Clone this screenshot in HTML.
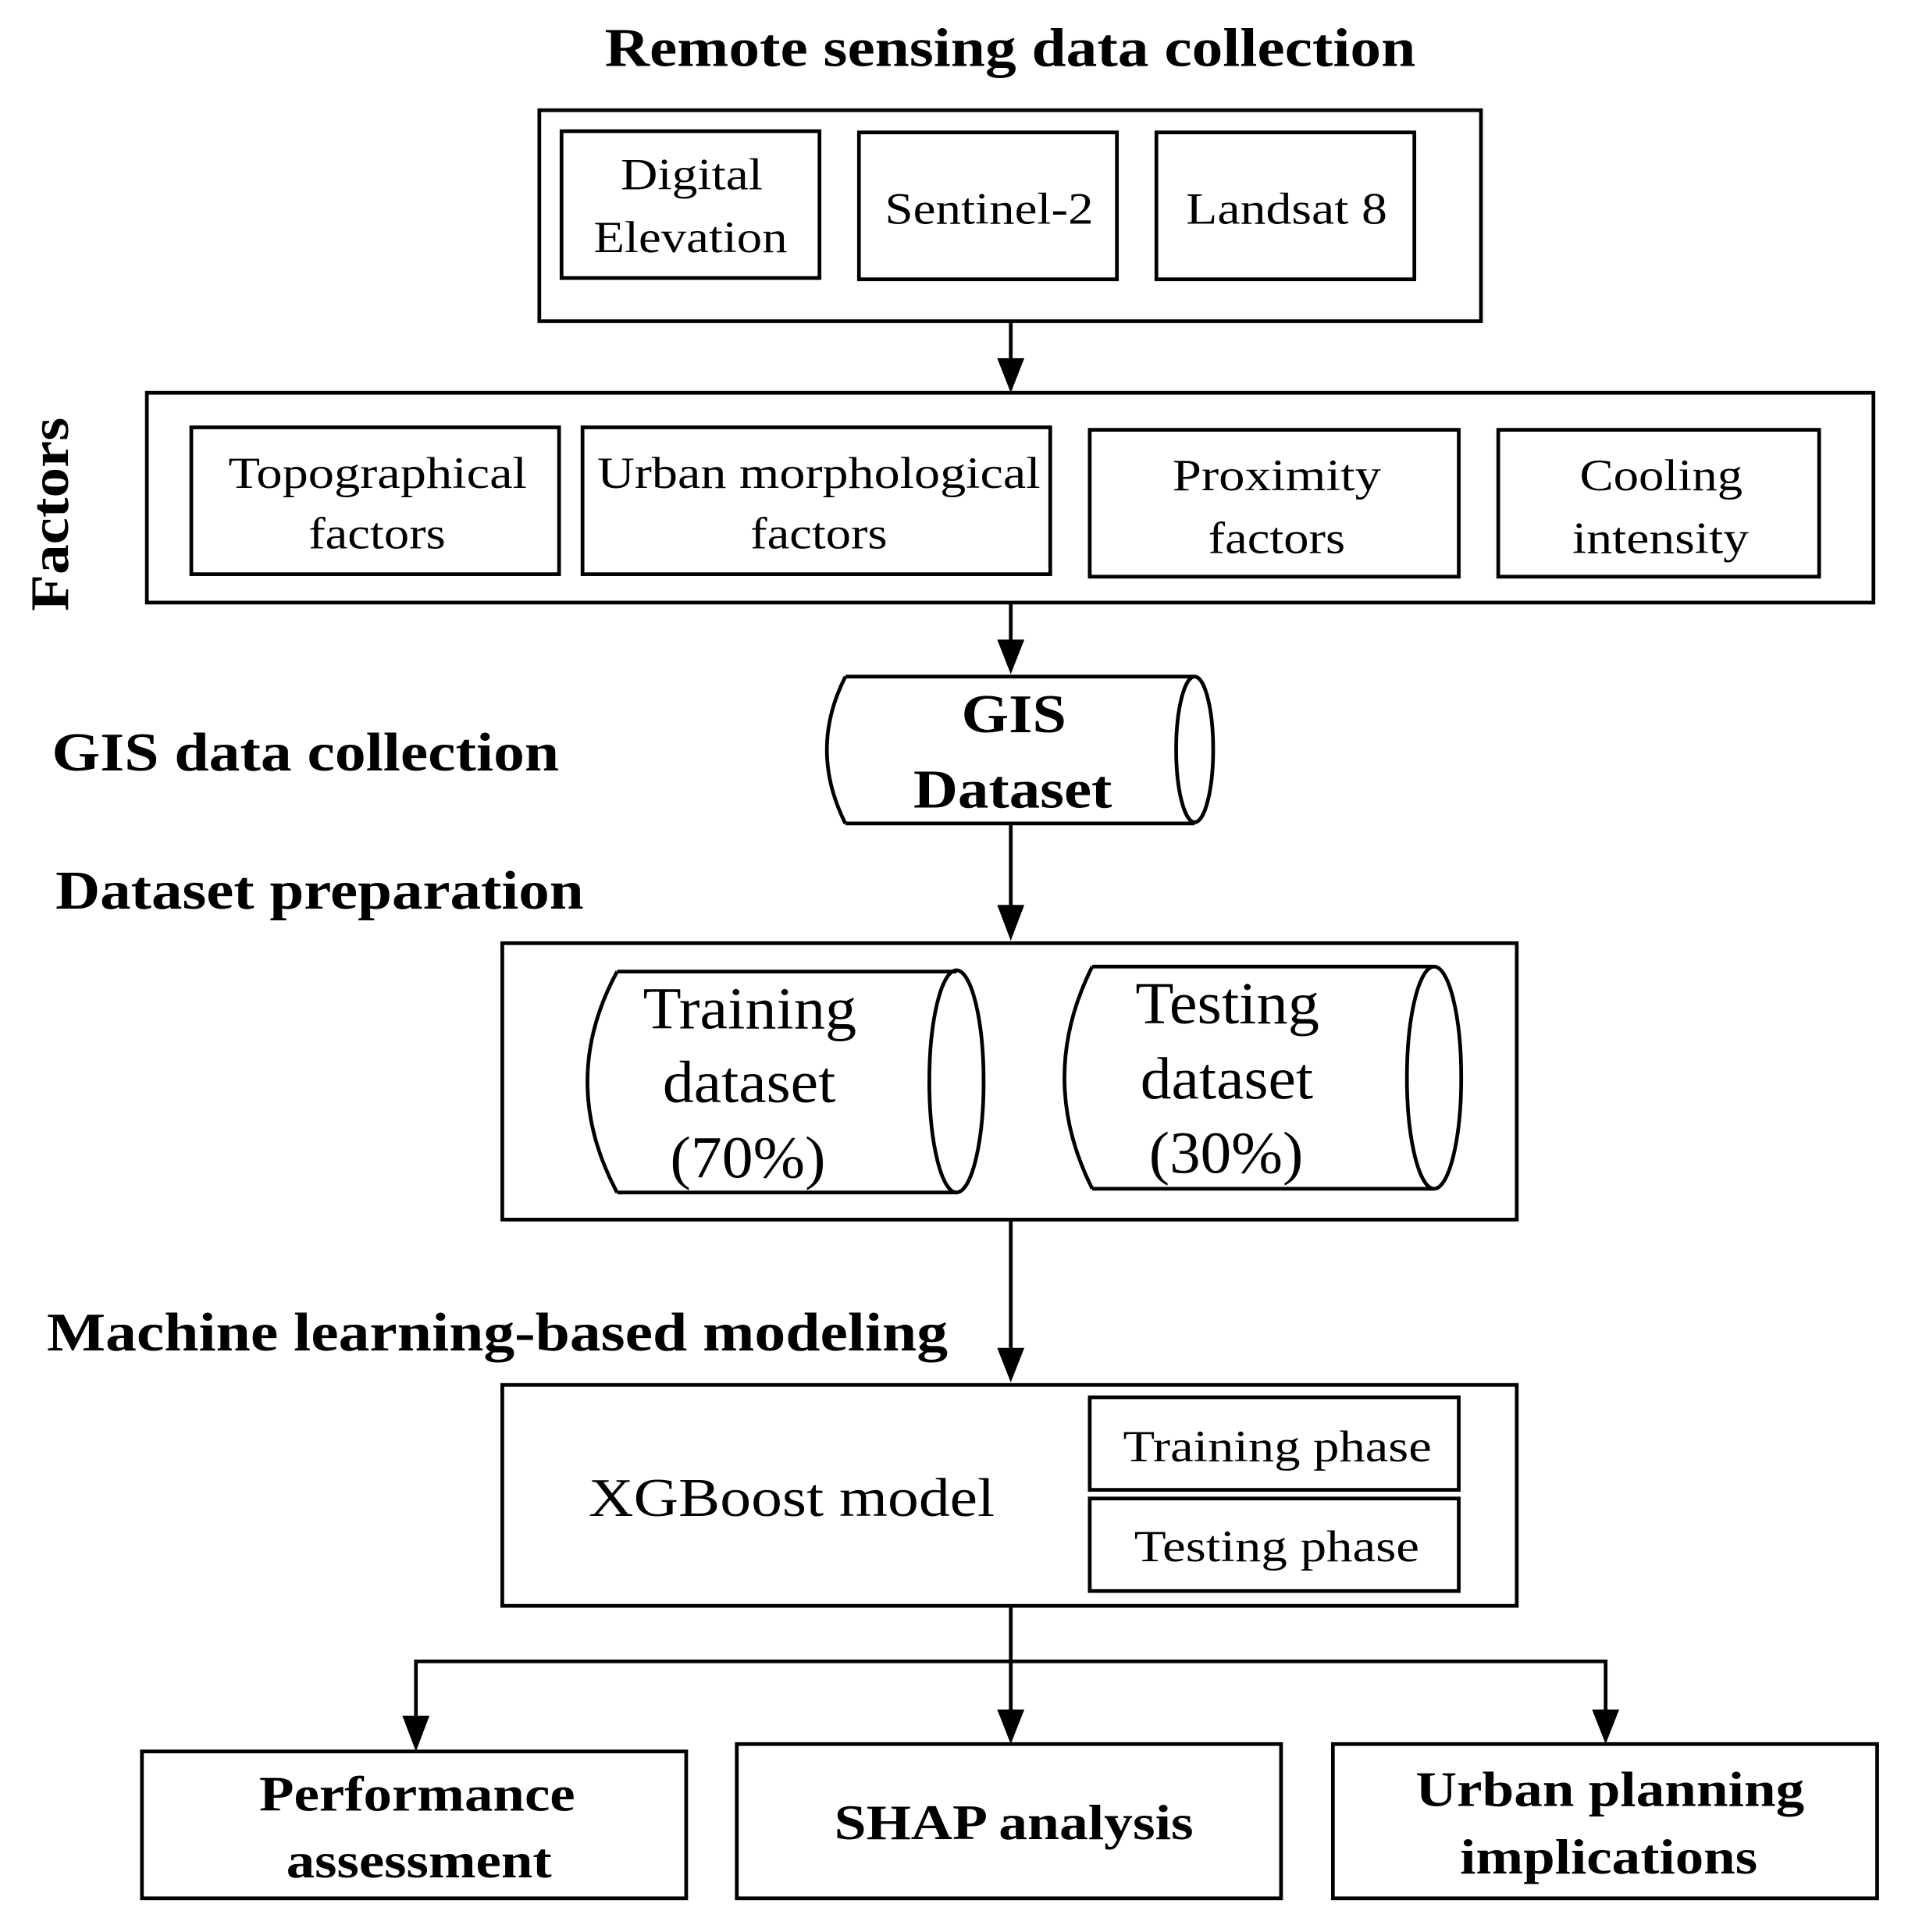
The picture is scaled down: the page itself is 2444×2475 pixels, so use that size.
<!DOCTYPE html>
<html><head><style>html,body{margin:0;padding:0;background:#fff}svg{display:block}</style></head>
<body>
<svg width="2444" height="2475" viewBox="0 0 1546 1565" xmlns="http://www.w3.org/2000/svg" font-family="Liberation Serif, serif">
<g fill="none" stroke="#000" stroke-width="3">
<rect x="437" y="89" width="763" height="171"/>
<rect x="455" y="106" width="209" height="119"/>
<rect x="696" y="107" width="209" height="119"/>
<rect x="937" y="107" width="209" height="119"/>
<rect x="119" y="318" width="1399" height="170"/>
<rect x="155" y="346" width="298" height="119"/>
<rect x="472" y="346" width="379" height="119"/>
<rect x="883" y="348" width="299" height="119"/>
<rect x="1214" y="348" width="260" height="119"/>
<path d="M685,548 L968,548 M685,667 L968,667 M685,548 Q655,607 685,667"/>
<ellipse cx="968" cy="607" rx="15" ry="59"/>
<rect x="407" y="764" width="822" height="224"/>
<path d="M500,787 L775,787 M500,966 L775,966 M500,787 Q452,876 500,966"/>
<ellipse cx="775" cy="876" rx="22" ry="90"/>
<path d="M885,783 L1162,783 M885,963 L1162,963 M885,783 Q840,873 885,963"/>
<ellipse cx="1162" cy="873" rx="22" ry="90"/>
<rect x="407" y="1122" width="822" height="179"/>
<rect x="883" y="1132" width="299" height="75"/>
<rect x="883" y="1214" width="299" height="75"/>
<rect x="115" y="1419" width="441" height="119"/>
<rect x="597" y="1413" width="441" height="125"/>
<rect x="1080" y="1413" width="441" height="125"/>
<path d="M819,260 V292 M819,488 V520 M819,667 V735 M819,988 V1092 M819,1301 V1390 M337,1390 V1346 H1301 V1390"/>
</g>
<g fill="#000">
<polygon points="808,290 830,290 819,318"/>
<polygon points="808,518 830,518 819,546"/>
<polygon points="808,733 830,733 819,762"/>
<polygon points="808,1092 830,1092 819,1120"/>
<polygon points="808,1385 830,1385 819,1413"/>
<polygon points="326,1390 348,1390 337,1419"/>
<polygon points="1290,1385 1312,1385 1301,1413"/>
</g>
<g font-size="44" font-weight="bold" lengthAdjust="spacingAndGlyphs">
<text x="490" y="53" textLength="657" lengthAdjust="spacingAndGlyphs">Remote sensing data collection</text>
<text x="42" y="624" textLength="411" lengthAdjust="spacingAndGlyphs">GIS data collection</text>
<text x="45" y="736" textLength="428" lengthAdjust="spacingAndGlyphs">Dataset preparation</text>
<text x="38" y="1094" textLength="730" lengthAdjust="spacingAndGlyphs">Machine learning-based modeling</text>
<text transform="translate(55,495) rotate(-90)" textLength="157" lengthAdjust="spacingAndGlyphs">Factors</text>
<text x="779" y="593" textLength="85" lengthAdjust="spacingAndGlyphs">GIS</text>
<text x="740" y="654" textLength="161" lengthAdjust="spacingAndGlyphs">Dataset</text>
<text x="210" y="1467" font-size="40" textLength="256" lengthAdjust="spacingAndGlyphs">Performance</text>
<text x="232" y="1521" font-size="40" textLength="215" lengthAdjust="spacingAndGlyphs">assessment</text>
<text x="676" y="1490" font-size="40" textLength="291" lengthAdjust="spacingAndGlyphs">SHAP analysis</text>
<text x="1147" y="1463" font-size="40" textLength="315" lengthAdjust="spacingAndGlyphs">Urban planning</text>
<text x="1183" y="1518" font-size="40" textLength="241" lengthAdjust="spacingAndGlyphs">implications</text>
</g>
<g font-size="36">
<text x="503" y="153" textLength="115" lengthAdjust="spacingAndGlyphs">Digital</text>
<text x="481" y="204" textLength="157" lengthAdjust="spacingAndGlyphs">Elevation</text>
<text x="717" y="181" textLength="169" lengthAdjust="spacingAndGlyphs">Sentinel-2</text>
<text x="961" y="181" textLength="163" lengthAdjust="spacingAndGlyphs">Landsat 8</text>
<text x="185" y="395" textLength="242" lengthAdjust="spacingAndGlyphs">Topographical</text>
<text x="250" y="444" textLength="111" lengthAdjust="spacingAndGlyphs">factors</text>
<text x="484" y="395" textLength="359" lengthAdjust="spacingAndGlyphs">Urban morphological</text>
<text x="608" y="444" textLength="111" lengthAdjust="spacingAndGlyphs">factors</text>
<text x="950" y="397" textLength="169" lengthAdjust="spacingAndGlyphs">Proximity</text>
<text x="979" y="448" textLength="111" lengthAdjust="spacingAndGlyphs">factors</text>
<text x="1280" y="397" textLength="132" lengthAdjust="spacingAndGlyphs">Cooling</text>
<text x="1274" y="448" textLength="143" lengthAdjust="spacingAndGlyphs">intensity</text>
<text x="910" y="1184" textLength="250" lengthAdjust="spacingAndGlyphs">Training phase</text>
<text x="919" y="1265" textLength="231" lengthAdjust="spacingAndGlyphs">Testing phase</text>
<text x="477" y="1228" font-size="44" textLength="329" lengthAdjust="spacingAndGlyphs">XGBoost model</text>
</g>
<g font-size="48">
<text x="521" y="833" textLength="173" lengthAdjust="spacingAndGlyphs">Training</text>
<text x="537" y="893" textLength="140" lengthAdjust="spacingAndGlyphs">dataset</text>
<text x="543" y="954" textLength="126" lengthAdjust="spacingAndGlyphs">(70%)</text>
<text x="920" y="829" textLength="149" lengthAdjust="spacingAndGlyphs">Testing</text>
<text x="924" y="890" textLength="140" lengthAdjust="spacingAndGlyphs">dataset</text>
<text x="931" y="950" textLength="125" lengthAdjust="spacingAndGlyphs">(30%)</text>
</g>
</svg>
</body></html>
